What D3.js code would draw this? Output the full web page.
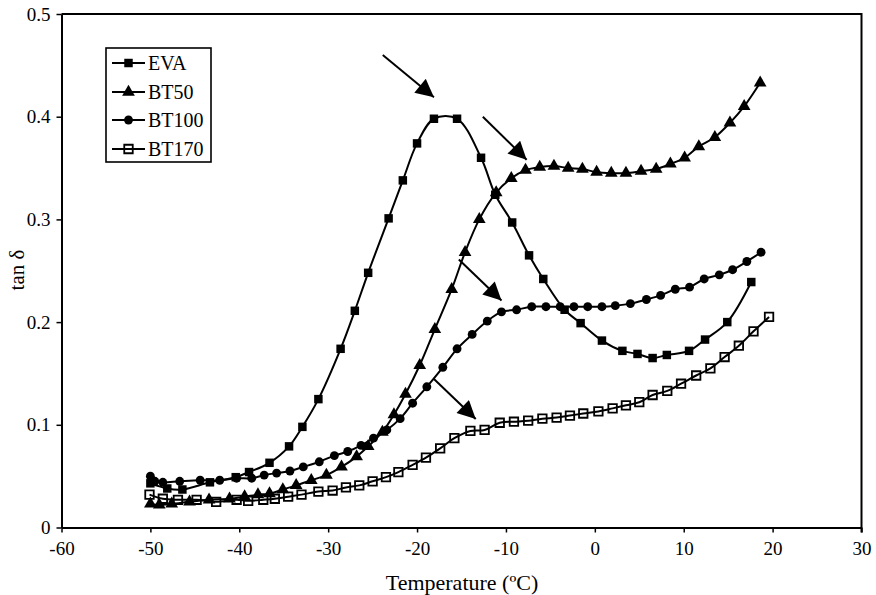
<!DOCTYPE html>
<html>
<head>
<meta charset="utf-8">
<script src="https://cdn.jsdelivr.net/npm/d3@7"></script>
<style>
  html, body { margin: 0; padding: 0; background: #fff; }
  svg { display: block; font-family: "Liberation Serif", "Times New Roman", serif; }
</style>
</head>
<body>
<svg id="chart" width="876" height="595"></svg>
<script>
// Loss factor (tan δ) versus temperature for EVA and the BT blends
const evaT = [-50, -48.1, -46.4, -43.3, -40.4, -38.9, -36.6, -34.4, -32.9, -31.1, -28.6, -27.0, -25.5, -23.2, -21.6, -20.0, -18.1, -15.5, -12.8, -11.2, -9.3, -7.4, -5.8, -3.4, -1.6, 0.8, 3.1, 4.8, 6.5, 8.1, 10.6, 12.4, 14.9, 17.6];
const evaV = [0.043, 0.038, 0.037, 0.044, 0.049, 0.054, 0.063, 0.079, 0.098, 0.125, 0.174, 0.211, 0.248, 0.301, 0.338, 0.374, 0.398, 0.398, 0.360, 0.324, 0.297, 0.265, 0.242, 0.212, 0.199, 0.182, 0.172, 0.169, 0.165, 0.168, 0.172, 0.183, 0.200, 0.239];

const bt50T = [-50, -49.0, -47.6, -45.6, -43.4, -41.1, -39.4, -37.9, -36.6, -35.1, -33.6, -31.9, -30.2, -28.5, -26.8, -25.5, -23.9, -22.6, -21.3, -19.7, -18.0, -16.1, -14.6, -13.0, -11.1, -9.4, -7.8, -6.2, -4.6, -3.0, -1.4, 0.2, 1.85, 3.5, 5.2, 6.9, 8.5, 10.1, 11.7, 13.5, 15.2, 16.8, 18.6];
const bt50V = [0.023, 0.022, 0.023, 0.025, 0.027, 0.028, 0.030, 0.032, 0.033, 0.037, 0.041, 0.046, 0.051, 0.059, 0.069, 0.079, 0.093, 0.110, 0.130, 0.158, 0.193, 0.232, 0.268, 0.300, 0.326, 0.340, 0.348, 0.351, 0.352, 0.350, 0.349, 0.346, 0.345, 0.345, 0.347, 0.349, 0.354, 0.360, 0.371, 0.380, 0.394, 0.410, 0.433];

const bt100T = [-50, -49.5, -48.6, -46.7, -44.4, -42.2, -40.3, -38.6, -37.2, -35.8, -34.3, -32.8, -31.0, -29.3, -27.8, -26.3, -24.9, -23.4, -21.9, -20.5, -18.9, -17.1, -15.5, -13.8, -12.1, -10.5, -8.8, -7.1, -5.5, -3.9, -2.35, -0.8, 0.8, 2.3, 4.0, 5.8, 7.4, 9.05, 10.65, 12.3, 14.0, 15.5, 17.1, 18.7];
const bt100V = [0.050, 0.045, 0.044, 0.045, 0.046, 0.046, 0.048, 0.048, 0.051, 0.053, 0.055, 0.059, 0.064, 0.070, 0.074, 0.080, 0.087, 0.095, 0.106, 0.121, 0.137, 0.156, 0.174, 0.188, 0.201, 0.210, 0.212, 0.215, 0.215, 0.215, 0.215, 0.215, 0.215, 0.216, 0.218, 0.222, 0.226, 0.232, 0.234, 0.242, 0.246, 0.251, 0.259, 0.268];

const bt170T = [-50.1, -48.6, -46.9, -44.8, -42.6, -40.3, -39.0, -37.3, -36.0, -34.5, -33.0, -31.1, -29.5, -28.0, -26.5, -25.0, -23.5, -22.1, -20.5, -19.0, -17.4, -15.8, -14.0, -12.4, -10.7, -9.1, -7.5, -5.9, -4.3, -2.8, -1.3, 0.4, 2.0, 3.5, 5.0, 6.5, 8.15, 9.7, 11.4, 13.0, 14.6, 16.2, 17.85, 19.6];
const bt170V = [0.032, 0.028, 0.027, 0.027, 0.025, 0.027, 0.026, 0.027, 0.028, 0.030, 0.032, 0.035, 0.036, 0.039, 0.041, 0.045, 0.049, 0.054, 0.061, 0.068, 0.077, 0.087, 0.094, 0.095, 0.102, 0.103, 0.104, 0.106, 0.107, 0.109, 0.111, 0.113, 0.116, 0.119, 0.122, 0.129, 0.133, 0.140, 0.148, 0.155, 0.166, 0.177, 0.191, 0.205];

const seriesNames = ["EVA", "BT50", "BT100", "BT170"];
const xTicks = [-60, -50, -40, -30, -20, -10, 0, 10, 20, 30];
const yTicks = [0, 0.1, 0.2, 0.3, 0.4, 0.5];

// Annotation arrows: [T start, tanδ start, T tip, tanδ tip]
const arrows = [
  [-23.86, 0.460, -18.1, 0.419],
  [-12.6, 0.400, -7.67, 0.358],
  [-15.3, 0.261, -10.5, 0.221],
  [-18.1, 0.1446, -13.4, 0.1056]
];

const svg = d3.select("#chart");
const x = d3.scaleLinear().domain([-60, 30]).range([61.5, 861.5]);
const y = d3.scaleLinear().domain([0, 0.5]).range([527.5, 14]);

const series = [
  { name: "EVA",   T: evaT,   V: evaV,   symbol: d3.symbolSquare,   size: 72, fill: "#000", stroke: "none" },
  { name: "BT50",  T: bt50T,  V: bt50V,  symbol: d3.symbolTriangle, size: 70, fill: "#000", stroke: "none" },
  { name: "BT100", T: bt100T, V: bt100V, symbol: d3.symbolCircle,   size: 62, fill: "#000", stroke: "none" },
  { name: "BT170", T: bt170T, V: bt170V, symbol: d3.symbolSquare,   size: 72, fill: "none", stroke: "#000" }
];

// Plot frame (top and right edges)
svg.append("path")
  .attr("d", `M${x(-60)},${y(0.5)}H${x(30)}V${y(0) + 5}`)
  .attr("fill", "none").attr("stroke", "#000").attr("stroke-width", 2);

// Axes
const xAxis = svg.append("g")
  .attr("transform", `translate(0,${y(0)})`)
  .call(d3.axisBottom(x).tickValues(xTicks).tickSize(5).tickSizeOuter(0).tickFormat(d => String(d)));
const yAxis = svg.append("g")
  .attr("transform", `translate(${x(-60)},0)`)
  .call(d3.axisLeft(y).tickValues(yTicks).tickSize(5).tickSizeOuter(0).tickFormat(d => String(d)));

[xAxis, yAxis].forEach(g => {
  g.select(".domain").attr("stroke", "#000").attr("stroke-width", 2);
  g.selectAll(".tick line").attr("stroke", "#000").attr("stroke-width", 1.5);
  g.selectAll(".tick text").attr("fill", "#000").style("font-size", "19px")
    .style("font-family", "'Liberation Serif', 'Times New Roman', serif");
});
xAxis.selectAll(".tick text").attr("y", 14);
yAxis.selectAll(".tick text").attr("x", -11);

// Axis titles
svg.append("text")
  .attr("x", 462).attr("y", 590)
  .attr("text-anchor", "middle")
  .style("font-size", "22px")
  .text("Temperature (ºC)");
svg.append("text")
  .attr("transform", `translate(24,${270}) rotate(-90)`)
  .attr("text-anchor", "middle")
  .style("font-size", "21px")
  .text("tan δ");

// Smoothed series lines and markers
const line = d3.line()
  .x(d => x(d[0])).y(d => y(d[1]))
  .curve(d3.curveCatmullRom.alpha(0.5));

series.forEach(s => {
  const pts = s.T.map((t, i) => [t, s.V[i]]);
  svg.append("path")
    .datum(pts)
    .attr("d", line)
    .attr("fill", "none")
    .attr("stroke", "#000")
    .attr("stroke-width", 2);
  svg.append("g").selectAll("path")
    .data(pts)
    .join("path")
    .attr("transform", d => `translate(${x(d[0])},${y(d[1])})`)
    .attr("d", d3.symbol(s.symbol, s.size))
    .attr("fill", s.fill)
    .attr("stroke", s.stroke)
    .attr("stroke-width", 1.8);
});

// Arrows
const defs = svg.append("defs");
defs.append("marker")
  .attr("id", "head")
  .attr("viewBox", "0 0 10 10")
  .attr("refX", 10).attr("refY", 5)
  .attr("markerUnits", "userSpaceOnUse")
  .attr("markerWidth", 20).attr("markerHeight", 18)
  .attr("orient", "auto")
  .append("path").attr("d", "M0,0L10,5L0,10Z").attr("fill", "#000");

svg.append("g").selectAll("line")
  .data(arrows)
  .join("line")
  .attr("x1", d => x(d[0])).attr("y1", d => y(d[1]))
  .attr("x2", d => x(d[2])).attr("y2", d => y(d[3]))
  .attr("stroke", "#000").attr("stroke-width", 2)
  .attr("marker-end", "url(#head)");

// Legend
const lg = svg.append("g");
lg.append("rect")
  .attr("x", 106).attr("y", 48).attr("width", 105).attr("height", 114)
  .attr("fill", "#fff").attr("stroke", "#000").attr("stroke-width", 1.6);
const rowY = [63, 92, 120, 149];
series.forEach((s, i) => {
  const g = lg.append("g").attr("transform", `translate(0,${rowY[i]})`);
  g.append("line").attr("x1", 112).attr("x2", 145).attr("y1", 0).attr("y2", 0)
    .attr("stroke", "#000").attr("stroke-width", 2);
  g.append("path").attr("transform", "translate(128.5,0)")
    .attr("d", d3.symbol(s.symbol, s.size))
    .attr("fill", s.fill).attr("stroke", s.stroke).attr("stroke-width", 1.8);
  g.append("text").attr("x", 148).attr("y", 7)
    .style("font-size", "20px")
    .text(seriesNames[i]);
});
</script>
</body>
</html>
